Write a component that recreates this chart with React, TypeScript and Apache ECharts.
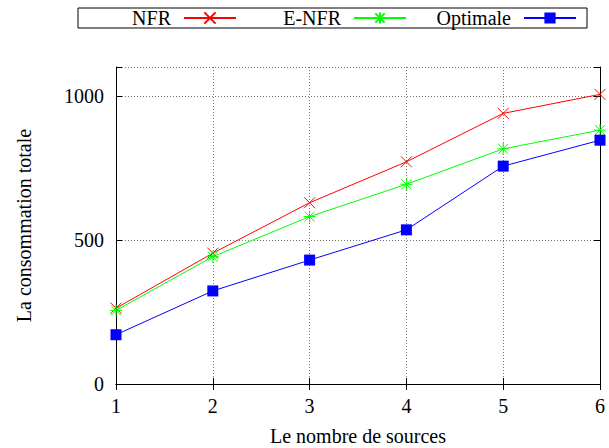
import React, { useEffect, useRef } from "react";
import * as echarts from "echarts";

const sources = [1, 2, 3, 4, 5, 6];
const nfr = [263, 454, 629, 771, 939, 1005];
const enfr = [255, 442, 581, 693, 816, 881];
const optimale = [171, 323, 430, 535, 756, 846];
const yTickValues = [0, 500, 1000];

const FONT = "Liberation Serif";
const FS = 20;
const CROSS = "path://M0,0L10,10M10,0L0,10";
const STAR = "path://M0,0L10,10M10,0L0,10M5,-1L5,11M-1,5L11,5";

export default function App() {
  const ref = useRef<HTMLDivElement>(null);
  useEffect(() => {
    if (!ref.current) return;
    const chart = echarts.init(ref.current, undefined, { renderer: "svg" });
    const pairs = (arr: number[]) => sources.map((s, i) => [s, arr[i]]);
    const legendBase = {
      top: 8,
      padding: 0,
      align: "right" as const,
      itemWidth: 52,
      itemHeight: 14,
      textStyle: { fontFamily: FONT, fontSize: FS, color: "#000", padding: [0, 8, 0, 0] },
      selectedMode: false,
    };
    chart.setOption({
      animation: false,
      backgroundColor: "#fff",
      legend: [
        { ...legendBase, right: 372, data: ["NFR"] },
        { ...legendBase, right: 202, data: ["E-NFR"] },
        { ...legendBase, right: 32, data: ["Optimale"] },
      ],
      graphic: [
        {
          type: "rect",
          shape: { x: 78, y: 8, width: 509, height: 20 },
          style: { fill: "none", stroke: "#000", lineWidth: 1 },
          silent: true,
        },
      ],
      grid: {
        left: 116,
        right: 9,
        top: 67,
        bottom: 64,
        containLabel: false,
        outerBoundsMode: "none",
      },
      xAxis: [
        {
          type: "value",
          min: 1,
          max: 6,
          interval: 1,
          name: "Le nombre de sources",
          nameLocation: "middle",
          nameGap: 42,
          nameTextStyle: { fontFamily: FONT, fontSize: FS, color: "#000" },
          axisLine: { lineStyle: { color: "#000", width: 1 } },
          axisTick: { inside: true, length: 6, lineStyle: { color: "#000" } },
          axisLabel: { fontFamily: FONT, fontSize: FS, color: "#000", margin: 12 },
          splitLine: { show: true, lineStyle: { color: "#777", type: [1, 2], width: 1 } },
        },
        {
          type: "value",
          position: "top",
          min: 1,
          max: 6,
          interval: 1,
          axisLine: { lineStyle: { color: "#000", width: 1 } },
          axisTick: { inside: true, length: 6, lineStyle: { color: "#000" } },
          axisLabel: { show: false },
          splitLine: { show: false },
        },
      ],
      yAxis: [
        {
          type: "value",
          min: 0,
          max: 1100,
          interval: 500,
          name: "La consommation totale",
          nameLocation: "middle",
          nameGap: 82,
          nameRotate: 90,
          nameTextStyle: { fontFamily: FONT, fontSize: FS, color: "#000" },
          axisLine: { show: true, lineStyle: { color: "#000", width: 1 } },
          axisTick: { show: true, inside: true, length: 6, lineStyle: { color: "#000" } },
          axisLabel: {
            fontFamily: FONT,
            fontSize: FS,
            color: "#000",
            margin: 12,
            formatter: (v: number) => (yTickValues.includes(v) ? String(v) : ""),
          },
          splitLine: { show: true, lineStyle: { color: "#777", type: [1, 2], width: 1 } },
        },
        {
          type: "value",
          position: "right",
          min: 0,
          max: 1100,
          interval: 500,
          axisLine: { show: true, lineStyle: { color: "#000", width: 1 } },
          axisTick: { show: true, inside: true, length: 6, lineStyle: { color: "#000" } },
          axisLabel: { show: false },
          splitLine: { show: false },
        },
      ],
      series: [
        {
          name: "NFR",
          type: "line",
          data: pairs(nfr),
          symbol: CROSS,
          symbolSize: 11,
          color: "#ff0000",
          lineStyle: { color: "#ff0000", width: 1 },
          itemStyle: { color: "#ff0000", borderColor: "#ff0000", borderWidth: 1 },
        },
        {
          name: "E-NFR",
          type: "line",
          data: pairs(enfr),
          symbol: STAR,
          symbolSize: 12,
          color: "#00ff00",
          lineStyle: { color: "#00ff00", width: 1 },
          itemStyle: { color: "#00ff00", borderColor: "#00ff00", borderWidth: 1 },
        },
        {
          name: "Optimale",
          type: "line",
          data: pairs(optimale),
          symbol: "rect",
          symbolSize: 11,
          color: "#0000ff",
          lineStyle: { color: "#0000ff", width: 1 },
          itemStyle: { color: "#0000ff" },
        },
      ],
    });
    return () => chart.dispose();
  }, []);
  return <div ref={ref} style={{ width: 609, height: 448, position: "absolute", left: 0, top: 0 }} />;
}
